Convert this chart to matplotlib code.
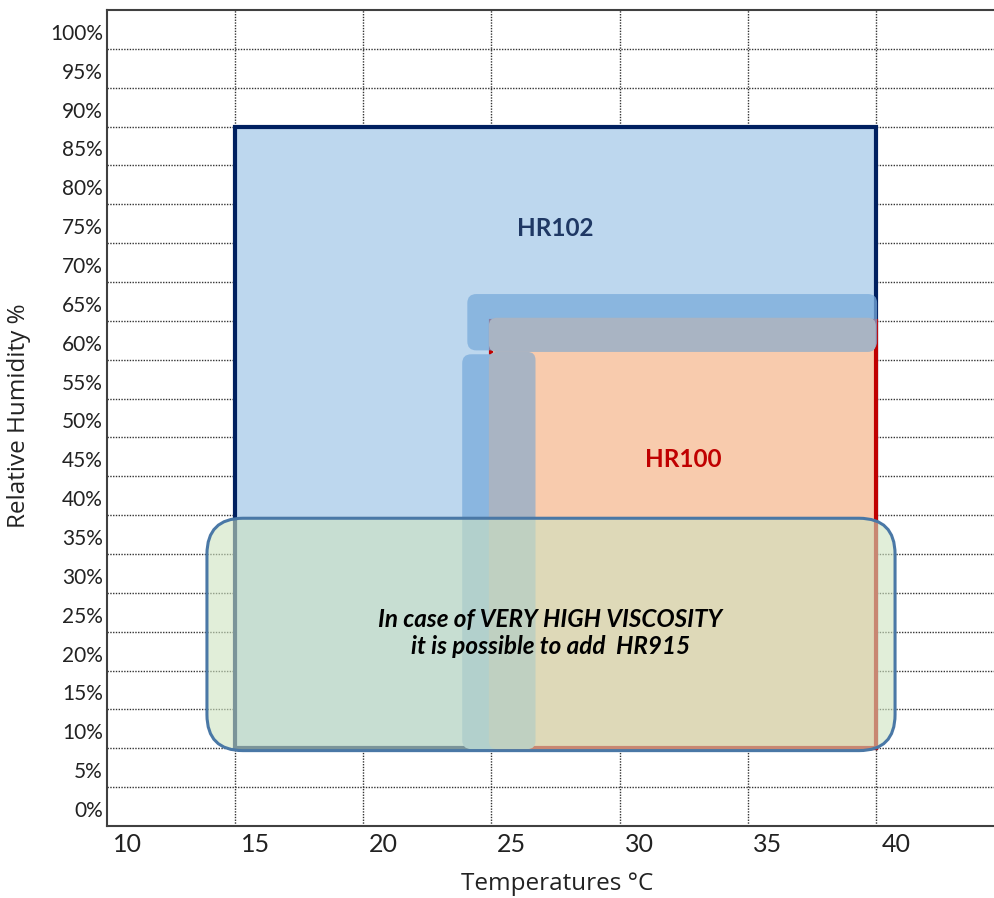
import matplotlib.pyplot as plt
from matplotlib.patches import Rectangle, FancyBboxPatch
from matplotlib.transforms import ScaledTranslation

# ---- data ----
x_ticks = [10, 15, 20, 25, 30, 35, 40]
y_ticks = list(range(0, 101, 5))
y_labels = [f"{v}%" for v in y_ticks]

hr102_temp = [15, 40]
hr102_rh = [10, 90]
hr100_temp = [25, 40]
hr100_rh = [10, 65]
hr915_temp = [13.9, 40.75]
hr915_rh = [9.7, 39.6]

# overlap bands between the two products
blue_h_temp, blue_h_rh = [24.06, 40.05], [61.2, 68.45]
blue_v_temp, blue_v_rh = [23.86, 25.6], [9.9, 60.7]
gray_h_temp, gray_h_rh = [24.9, 40.0], [61.0, 65.4]
gray_v_temp, gray_v_rh = [24.9, 26.72], [9.9, 61.0]

plt.rcParams['font.family'] = ['Lato', 'DejaVu Sans']

fig = plt.figure(figsize=(9.95, 8.98), dpi=100)
ax = fig.add_axes([107 / 995, 72 / 898, 1 - 107 / 995, 816 / 898])
ax.set_xlim(10, 44.65)
ax.set_ylim(0, 105)

# pixel scales to get round corners
px_x = ax.get_position().width * 995 / (44.65 - 10)
px_y = ax.get_position().height * 898 / 105


def rbox(xs, ys, rad_px, **kw):
    r = rad_px / px_x
    return FancyBboxPatch((xs[0], ys[0]), xs[1] - xs[0], ys[1] - ys[0],
                          boxstyle=f"round,pad=0,rounding_size={r}",
                          mutation_aspect=px_x / px_y, **kw)


# grid
for v in x_ticks[1:]:
    ax.axvline(v, color='#333333', lw=1.0, ls=(0, (1, 1)), zorder=0)
for v in y_ticks[1:]:
    ax.axhline(v, color='#333333', lw=1.0, ls=(0, (1, 1)), zorder=0)

# HR102
ax.add_patch(Rectangle((hr102_temp[0], hr102_rh[0]), hr102_temp[1] - hr102_temp[0],
                       hr102_rh[1] - hr102_rh[0], facecolor='#BDD7EE',
                       edgecolor='#002060', lw=3, zorder=2))
# HR100
ax.add_patch(Rectangle((hr100_temp[0], hr100_rh[0]), hr100_temp[1] - hr100_temp[0],
                       hr100_rh[1] - hr100_rh[0], facecolor='#F8CBAD',
                       edgecolor='#C00000', lw=3, zorder=3))

# bands
ax.add_patch(rbox(blue_h_temp, blue_h_rh, 9, facecolor='#79ABDB', alpha=0.75, lw=0, zorder=4))
ax.add_patch(rbox(blue_v_temp, blue_v_rh, 9, facecolor='#8AB6E0', lw=0, zorder=4))
ax.add_patch(rbox(gray_h_temp, gray_h_rh, 8, facecolor='#A9B4C3', lw=0, zorder=5))
ax.add_patch(rbox(gray_v_temp, gray_v_rh, 8, facecolor='#A9B4C3', lw=0, zorder=5))

# HR915 note
ax.add_patch(rbox(hr915_temp, hr915_rh, 36, facecolor=(206 / 255, 227 / 255, 192 / 255, 0.6),
                  edgecolor='#4A78A6', lw=2.2, zorder=6))

ax.text(27.5, 76.9, "HR102", color='#1F3864', fontsize=17.5, fontweight='bold',
        ha='center', va='center', zorder=7)
ax.text(32.5, 47.2, "HR100", color='#C00000', fontsize=17.5, fontweight='bold',
        ha='center', va='center', zorder=7)
ax.text(27.3, 24.8, "In case of VERY HIGH VISCOSITY\nit is possible to add  HR915",
        color='black', fontsize=17.5, fontweight='bold', fontstyle='italic',
        ha='center', va='center', linespacing=1.2, zorder=7)

# axes styling
ax.spines['right'].set_visible(False)
for s in ['left', 'bottom', 'top']:
    ax.spines[s].set_color('#404040')
    ax.spines[s].set_linewidth(1.5)

ax.set_xticks(x_ticks)
ax.set_xticklabels([str(v) for v in x_ticks], fontsize=18, color='#222222')
ax.set_yticks(y_ticks)
ax.set_yticklabels(y_labels, fontsize=15, color='#222222')
ax.tick_params(axis='both', length=0)
ax.tick_params(axis='x', pad=5)
ax.tick_params(axis='y', pad=3)

dx = ScaledTranslation(0.20, 0, fig.dpi_scale_trans)
for lab in ax.get_xticklabels():
    lab.set_transform(lab.get_transform() + dx)
dy = ScaledTranslation(0, 0.17, fig.dpi_scale_trans)
for lab in ax.get_yticklabels():
    lab.set_transform(lab.get_transform() + dy)

fig.text(19 / 995, 1 - 416 / 898, "Relative Humidity %", rotation=90, fontsize=17.5,
         family=['Open Sans', 'DejaVu Sans'], ha='center', va='center', color='#222222')
fig.text(557 / 995, 1 - 884 / 898, "Temperatures °C", fontsize=17.5,
         family=['Open Sans', 'DejaVu Sans'], ha='center', va='center', color='#222222')

fig.savefig("out.png", dpi=100)
